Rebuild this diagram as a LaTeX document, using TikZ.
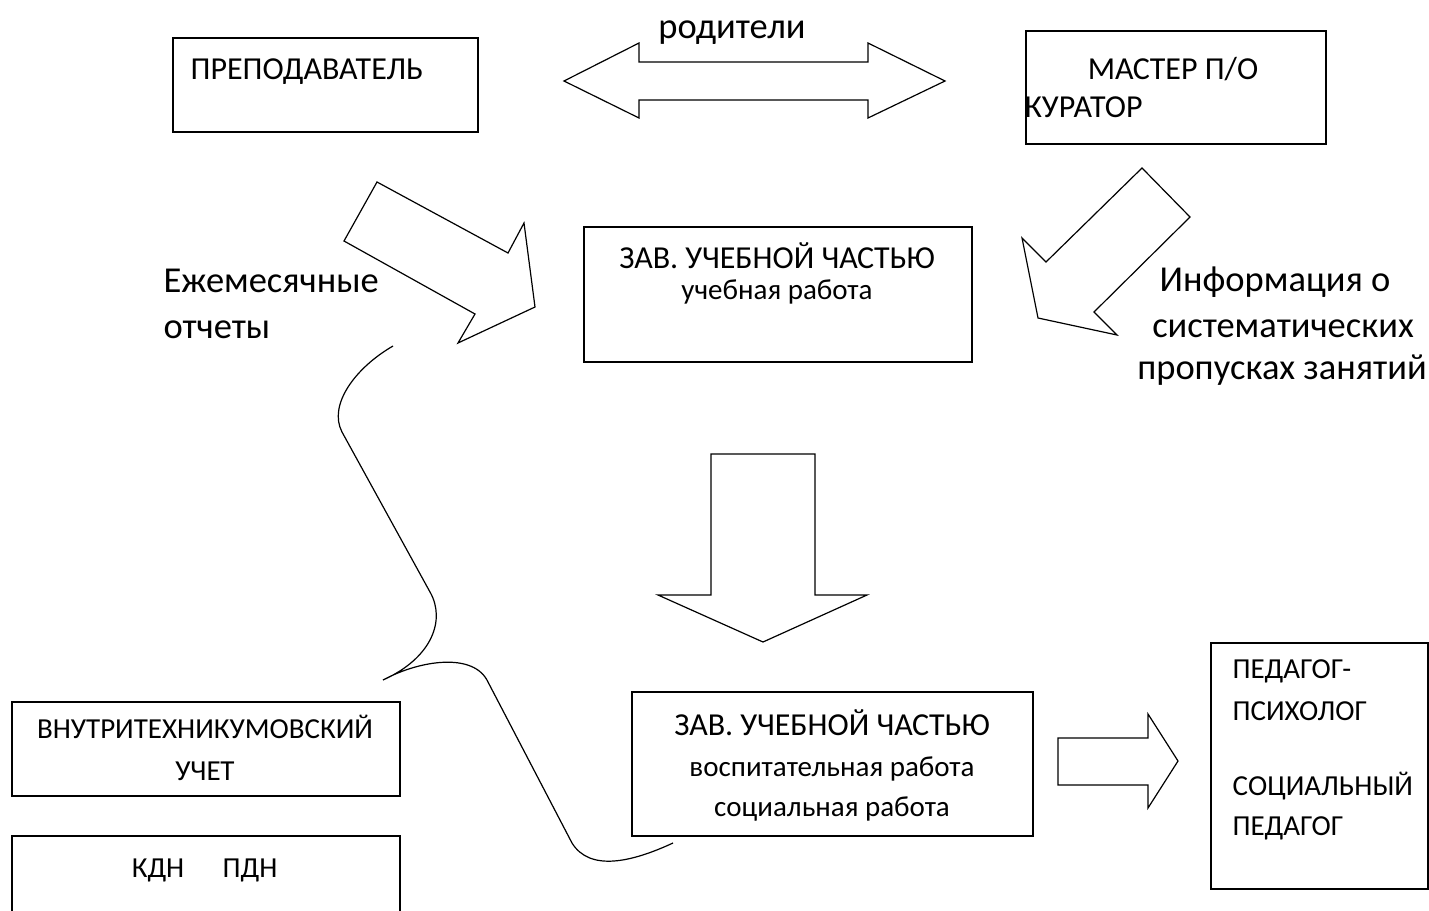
\documentclass[tikz,border=0pt]{standalone}
\usepackage{fontspec}
\setmainfont{Carlito}
\usetikzlibrary{positioning}

\begin{document}
\begin{tikzpicture}[x=1pt, y=-1pt, line width=1.2pt]
    % Стили для блоков, надписей и фигурных стрелок
    \tikzstyle{box} = [draw, rectangle, inner sep=0pt]
    \tikzstyle{txt} = [inner sep=0pt, anchor=base, font=\fontsize{32}{38}\selectfont]
    \tikzstyle{sub} = [inner sep=0pt, anchor=base, font=\fontsize{29}{35}\selectfont]
    \tikzstyle{big} = [inner sep=0pt, anchor=base, font=\fontsize{36.5}{44}\selectfont]
    \tikzstyle{blockarrow} = [draw, fill=white, line join=miter]

    \clip (0,0) rectangle (1429,910); % Размер листа

    % Блоки
    \node [box, minimum width=305pt, minimum height=94pt] (prep) at (325.5,85) {};
    \node [box, minimum width=300pt, minimum height=113pt] (master) at (1176,87.5) {};
    \node [box, minimum width=388pt, minimum height=135pt] (uch) at (778,294.5) {};
    \node [box, minimum width=401pt, minimum height=144pt] (vosp) at (832.5,764) {};
    \node [box, minimum width=388pt, minimum height=94pt] (vnutr) at (206,749) {};
    \node [box, minimum width=388pt, minimum height=110pt] (kdn) at (206,891) {}; % обрезан снизу
    \node [box, minimum width=217pt, minimum height=246pt] (ped) at (1319.5,766) {};

    % Надписи в блоках
    \node [txt, anchor=base west] (preptxt) at (190,79) {ПРЕПОДАВАТЕЛЬ};
    \node [txt] (mastertxt) at (1173,79) {МАСТЕР П/О};
    \node [txt, anchor=base west] (kurtxt) at (1024,117) {КУРАТОР};
    \node [txt] (uchtxt) at (777,268) {ЗАВ. УЧЕБНОЙ ЧАСТЬЮ};
    \node [sub] (uchsub) at (777,299) {учебная работа};
    \node [txt] (vosptxt) at (832,735) {ЗАВ. УЧЕБНОЙ ЧАСТЬЮ};
    \node [sub] (vospsub) at (832,776) {воспитательная работа};
    \node [sub] (socsub) at (832,816) {социальная работа};
    \node [sub] (vnutrtxt) at (205,738) {ВНУТРИТЕХНИКУМОВСКИЙ};
    \node [sub] (uchettxt) at (205,780) {УЧЕТ};
    \node [sub] (kdntxt) at (158,877) {КДН};
    \node [sub] (pdntxt) at (250,877) {ПДН};
    \node [sub, anchor=base west] (ped1) at (1232,678) {ПЕДАГОГ-};
    \node [sub, anchor=base west] (ped2) at (1232,720) {ПСИХОЛОГ};
    \node [sub, anchor=base west] (ped3) at (1232,795) {СОЦИАЛЬНЫЙ};
    \node [sub, anchor=base west] (ped4) at (1232,835) {ПЕДАГОГ};

    % Подписи к стрелкам
    \node [big] (rod) at (732,38) {родители};
    \node [big, anchor=base west] (ezh) at (163,292) {Ежемесячные};
    \node [big, anchor=base west] (otch) at (163,338) {отчеты};
    \node [big] (inf1) at (1275,291) {Информация о};
    \node [big] (inf2) at (1283,337) {систематических};
    \node [big] (inf3) at (1282,379) {пропусках занятий};

    % Фигурные стрелки
    \draw [blockarrow] (564,81) -- (639,43) -- (639,62) -- (868,62) -- (868,43) -- (945,81)
        -- (868,118) -- (868,100) -- (639,100) -- (639,118) -- cycle; % двойная
    \draw [blockarrow] (377,182) -- (508,253) -- (524,223) -- (535,307) -- (458,343)
        -- (475,314) -- (344,241) -- cycle; % от преподавателя
    \draw [blockarrow] (1142,168) -- (1190,217) -- (1094,312) -- (1117,335) -- (1038,318)
        -- (1022,238) -- (1046,262) -- cycle; % от мастера
    \draw [blockarrow] (711,454) -- (815,454) -- (815,595) -- (867,595) -- (763,642)
        -- (658,595) -- (711,595) -- cycle; % вниз
    \draw [blockarrow] (1058,738) -- (1148,738) -- (1148,714) -- (1178,761) -- (1148,808)
        -- (1148,785) -- (1058,785) -- cycle; % вправо

    % Фигурная скобка
    \draw (393,346) .. controls (355,368) and (328,405) .. (342,432) -- (430,592)
        .. controls (446,620) and (432,658) .. (383,680)
        .. controls (420,660) and (474,652) .. (488,682) -- (572,843)
        .. controls (590,872) and (632,862) .. (673,843);

\end{tikzpicture}
\end{document}
